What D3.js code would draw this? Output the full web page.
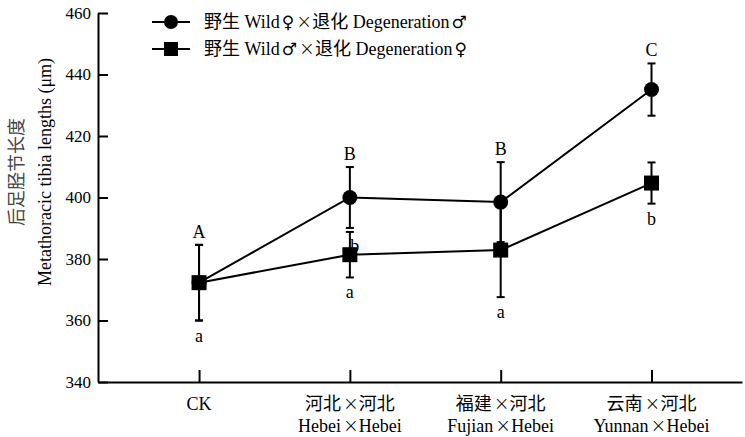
<!DOCTYPE html>
<html>
<head>
<meta charset="utf-8">
<script src="https://cdn.jsdelivr.net/npm/d3@7"></script>
<style>
  body { margin: 0; background: #fff; }
  text { font-family: "Liberation Serif", "Noto Sans CJK SC", serif; fill: #000; }
</style>
</head>
<body>
<div id="chart"></div>
<script>
// categories (two-line labels)
var catZh = ["CK", "河北×河北", "福建×河北", "云南×河北"];
var catEn = ["", "Hebei×Hebei", "Fujian×Hebei", "Yunnan×Hebei"];

// series: wild female x degeneration male (circles)
var femaleMean = [372.3, 400.0, 398.5, 435.1];
var femaleErr  = [12.3, 9.9, 13.0, 8.5];
var femaleLetters = ["A", "B", "B", "C"];

// series: wild male x degeneration female (squares)
var maleMean = [372.3, 381.4, 382.9, 404.7];
var maleErr  = [12.3, 7.4, 15.3, 6.7];
var maleLetters = ["a", "a", "a", "b"];
var maleExtra = [null, "b", null, null];

var yTicks = [340, 360, 380, 400, 420, 440, 460];
var legendLabels = ["野生 Wild♀×退化 Degeneration♂", "野生 Wild♂×退化 Degeneration♀"];

var W = 745, H = 437;
var svg = d3.select("#chart").append("svg")
  .attr("width", W).attr("height", H);

var x = d3.scaleLinear().domain([-0.67, 3.6]).range([98, 742]);
var y = d3.scaleLinear().domain([340, 460]).range([382, 13]);

// put ×, ♀, ♂ in their own tspans so they come out wide like the original
function richText(sel, str) {
  str.split(/([×♀♂])/).forEach(function(part) {
    if (!part) return;
    var t = sel.append("tspan").text(part);
    if (part === "×") t.attr("dx", 2).style("font-family", "DejaVu Sans").style("font-weight", "200").style("font-size", "1.05em");
    if (part === "♀" || part === "♂") t.attr("dx", 2).style("font-family", "DejaVu Sans").style("font-size", "0.95em");
    if (part === "×" || part === "♀" || part === "♂") sel.append("tspan").attr("dx", 2).text("");
  });
}

// axes
var yAxis = d3.axisLeft(y).tickValues(yTicks).tickSizeInner(-10).tickSizeOuter(0).tickPadding(7);
var gy = svg.append("g").attr("transform", "translate(98,0)").call(yAxis);
gy.selectAll("text").style("font-size", "17px");

var xAxis = d3.axisBottom(x).tickValues(d3.range(catZh.length)).tickSizeInner(-12).tickSizeOuter(0).tickFormat("");
svg.append("g").attr("transform", "translate(0,382)").call(xAxis);

svg.selectAll(".domain, .tick line").attr("stroke", "#000").attr("stroke-width", 2);

catZh.forEach(function(d, i) {
  var t1 = svg.append("text").attr("x", x(i)).attr("y", 410)
    .attr("text-anchor", "middle").style("font-size", "18px");
  richText(t1, d);
  if (catEn[i]) {
    var t2 = svg.append("text").attr("x", x(i)).attr("y", 432)
      .attr("text-anchor", "middle").style("font-size", "18px");
    richText(t2, catEn[i]);
  }
});

// y label
var yl = svg.append("text").attr("transform", "translate(0,172) rotate(-90)")
  .attr("text-anchor", "middle").style("font-size", "18px");
yl.append("tspan").attr("x", 0).attr("y", 23).style("fill", "#444").text("后足胫节长度");
yl.append("tspan").attr("x", 0).attr("y", 51).text("Metathoracic tibia lengths (μm)");

var line = d3.line().x(function(d, i) { return x(i); }).y(function(d) { return y(d); });

function errorBars(means, errs) {
  var g = svg.append("g").attr("stroke", "#000").attr("stroke-width", 2);
  means.forEach(function(m, i) {
    var cx = x(i), t = y(m + errs[i]), b = y(m - errs[i]);
    g.append("line").attr("x1", cx).attr("x2", cx).attr("y1", t).attr("y2", b);
    g.append("line").attr("x1", cx - 4).attr("x2", cx + 4).attr("y1", t).attr("y2", t);
    g.append("line").attr("x1", cx - 4).attr("x2", cx + 4).attr("y1", b).attr("y2", b);
  });
}
errorBars(femaleMean, femaleErr);
errorBars(maleMean, maleErr);

[femaleMean, maleMean].forEach(function(s) {
  svg.append("path").datum(s).attr("d", line)
    .attr("fill", "none").attr("stroke", "#000").attr("stroke-width", 2);
});

svg.selectAll(".dot").data(femaleMean).enter().append("circle")
  .attr("cx", function(d, i) { return x(i); })
  .attr("cy", function(d) { return y(d); })
  .attr("r", 7.5).attr("fill", "#000");

svg.selectAll(".sq").data(maleMean).enter().append("rect")
  .attr("x", function(d, i) { return x(i) - 7.5; })
  .attr("y", function(d) { return y(d) - 7.5; })
  .attr("width", 15).attr("height", 15).attr("fill", "#000");

// significance letters
svg.selectAll(".lu").data(femaleLetters).enter().append("text")
  .attr("x", function(d, i) { return x(i); })
  .attr("y", function(d, i) { return y(femaleMean[i] + femaleErr[i]) - 7; })
  .attr("text-anchor", "middle").style("font-size", "18px").text(function(d) { return d; });

svg.selectAll(".ll").data(maleLetters).enter().append("text")
  .attr("x", function(d, i) { return x(i); })
  .attr("y", function(d, i) { return y(maleMean[i] - maleErr[i]) + 21; })
  .attr("text-anchor", "middle").style("font-size", "18px").text(function(d) { return d; });

maleExtra.forEach(function(d, i) {
  if (!d) return;
  svg.append("text").attr("x", x(i) + 5).attr("y", y(maleMean[i]) - 3)
    .attr("text-anchor", "middle").style("font-size", "18px").text(d);
});

// legend
var lg = svg.append("g");
legendLabels.forEach(function(t, i) {
  var ly = 22 + i * 27;
  lg.append("line").attr("x1", 152).attr("x2", 190).attr("y1", ly).attr("y2", ly)
    .attr("stroke", "#000").attr("stroke-width", 2);
  if (i === 0) lg.append("circle").attr("cx", 171).attr("cy", ly).attr("r", 7).attr("fill", "#000");
  else lg.append("rect").attr("x", 164).attr("y", ly - 7).attr("width", 14).attr("height", 14).attr("fill", "#000");
  var tx = lg.append("text").attr("x", 204).attr("y", ly + 6).style("font-size", "18px");
  richText(tx, t);
});
</script>
</body>
</html>
